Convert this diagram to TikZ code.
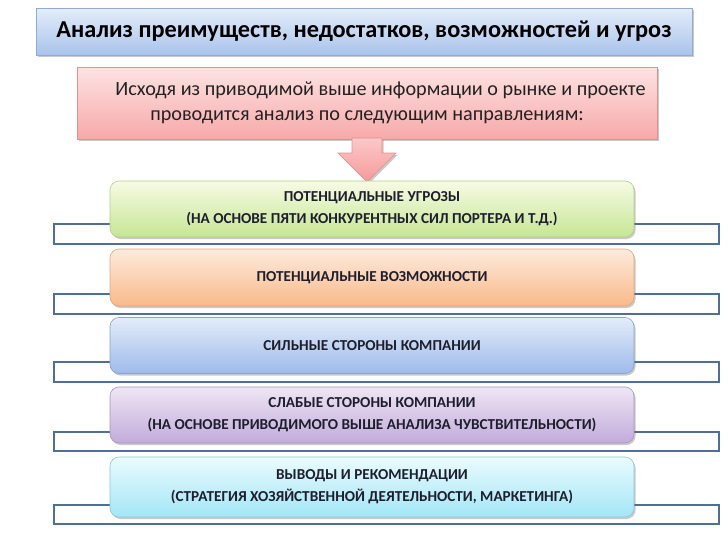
\documentclass[tikz,border=0pt]{standalone}
\usepackage{fontspec}
\setmainfont{Carlito}
\usetikzlibrary{shadows}
\definecolor{rectblue}{HTML}{4F6F98}
\definecolor{txt}{HTML}{1E1E2E}
\definecolor{tbord}{HTML}{8FAADC}
\definecolor{ttop}{HTML}{E4EDFA}
\definecolor{tbot}{HTML}{A9C3EB}
\definecolor{pbord}{HTML}{E38F8F}
\definecolor{ptop}{HTML}{FDE3E3}
\definecolor{pbot}{HTML}{F7A9A9}
\definecolor{ptxt}{HTML}{222222}
\definecolor{atop}{HTML}{FCC8C8}
\definecolor{abot}{HTML}{F59A9A}
\definecolor{gbord}{HTML}{B3CC8A}
\definecolor{gtop}{HTML}{F7FBE4}
\definecolor{gbot}{HTML}{C6E695}
\definecolor{obord}{HTML}{E0A57C}
\definecolor{otop}{HTML}{FDEBDD}
\definecolor{obot}{HTML}{F9B98A}
\definecolor{bbord}{HTML}{8AA3CC}
\definecolor{btop}{HTML}{E3ECFA}
\definecolor{bbot}{HTML}{9EBBEA}
\definecolor{vbord}{HTML}{A895C0}
\definecolor{vtop}{HTML}{EEE6F4}
\definecolor{vbot}{HTML}{C2ABDB}
\definecolor{cbord}{HTML}{8CC7D6}
\definecolor{ctop}{HTML}{EAFBFE}
\definecolor{cbot}{HTML}{A3E6F7}
\tikzset{
  shd/.style={drop shadow={shadow xshift=1.5pt,shadow yshift=-2pt,opacity=0.35,fill=black!60}},
  titlebox/.style={draw=tbord, top color=ttop, bottom color=tbot, line width=0.8pt, shd,
     minimum width=656pt, minimum height=47pt, font=\bfseries\fontsize{24.3}{28}\selectfont, text=black},
  pinkbox/.style={draw=pbord, top color=ptop, bottom color=pbot, line width=0.8pt, shd,
     minimum width=580pt, minimum height=72pt, align=center, font=\fontsize{20.2}{25}\selectfont, text=ptxt},
  rowbox/.style={rounded corners=9pt, line width=0.6pt, shd, minimum width=524pt, align=center,
     font=\bfseries\fontsize{15.2}{22}\selectfont, text=txt},
  backrect/.style={draw=rectblue, line width=1.8pt},
}
\begin{document}
\begin{tikzpicture}[x=1pt,y=-1pt]
\useasboundingbox (0,0) rectangle (728,546);
\fill[white] (0,0) rectangle (728,546);
% title
\node[titlebox] (title) at (364,31.5) {Анализ преимуществ, недостатков, возможностей и угроз};
% pink box
\node[pinkbox] (info) at (367,103) {\hspace*{27pt}Исходя из приводимой выше информации о рынке и проекте\\проводится анализ по следующим направлениям:};
% arrow
\coordinate (abl) at (352,138);
\coordinate (tip) at (367,182);
\path[draw=pbord, line width=0.6pt, top color=atop, bottom color=abot, shd]
  (abl) -- (352,153) -- (338,153) -- (tip) -- (396,153) -- (382,153) -- (382,138) -- cycle;
% back rectangles
\foreach \t/\b in {224/244, 294/314, 362/382, 432/451, 505/524}{
  \draw[backrect] (54,\t) rectangle (719,\b);
}
% rows
\node[rowbox, draw=gbord, top color=gtop, bottom color=gbot, minimum height=56pt] (r1) at (372,209)
  {ПОТЕНЦИАЛЬНЫЕ УГРОЗЫ\\(НА ОСНОВЕ ПЯТИ КОНКУРЕНТНЫХ СИЛ ПОРТЕРА И Т.Д.)};
\node[rowbox, draw=obord, top color=otop, bottom color=obot, minimum height=57pt] (r2) at (372,277.5)
  {ПОТЕНЦИАЛЬНЫЕ ВОЗМОЖНОСТИ};
\node[rowbox, draw=bbord, top color=btop, bottom color=bbot, minimum height=56pt] (r3) at (372,345.5)
  {СИЛЬНЫЕ СТОРОНЫ КОМПАНИИ};
\node[rowbox, draw=vbord, top color=vtop, bottom color=vbot, minimum height=56pt] (r4) at (372,415)
  {СЛАБЫЕ СТОРОНЫ КОМПАНИИ\\(НА ОСНОВЕ ПРИВОДИМОГО ВЫШЕ АНАЛИЗА ЧУВСТВИТЕЛЬНОСТИ)};
\node[rowbox, draw=cbord, top color=ctop, bottom color=cbot, minimum height=60pt] (r5) at (372,487)
  {ВЫВОДЫ И РЕКОМЕНДАЦИИ\\(СТРАТЕГИЯ ХОЗЯЙСТВЕННОЙ ДЕЯТЕЛЬНОСТИ, МАРКЕТИНГА)};
\end{tikzpicture}
\end{document}
